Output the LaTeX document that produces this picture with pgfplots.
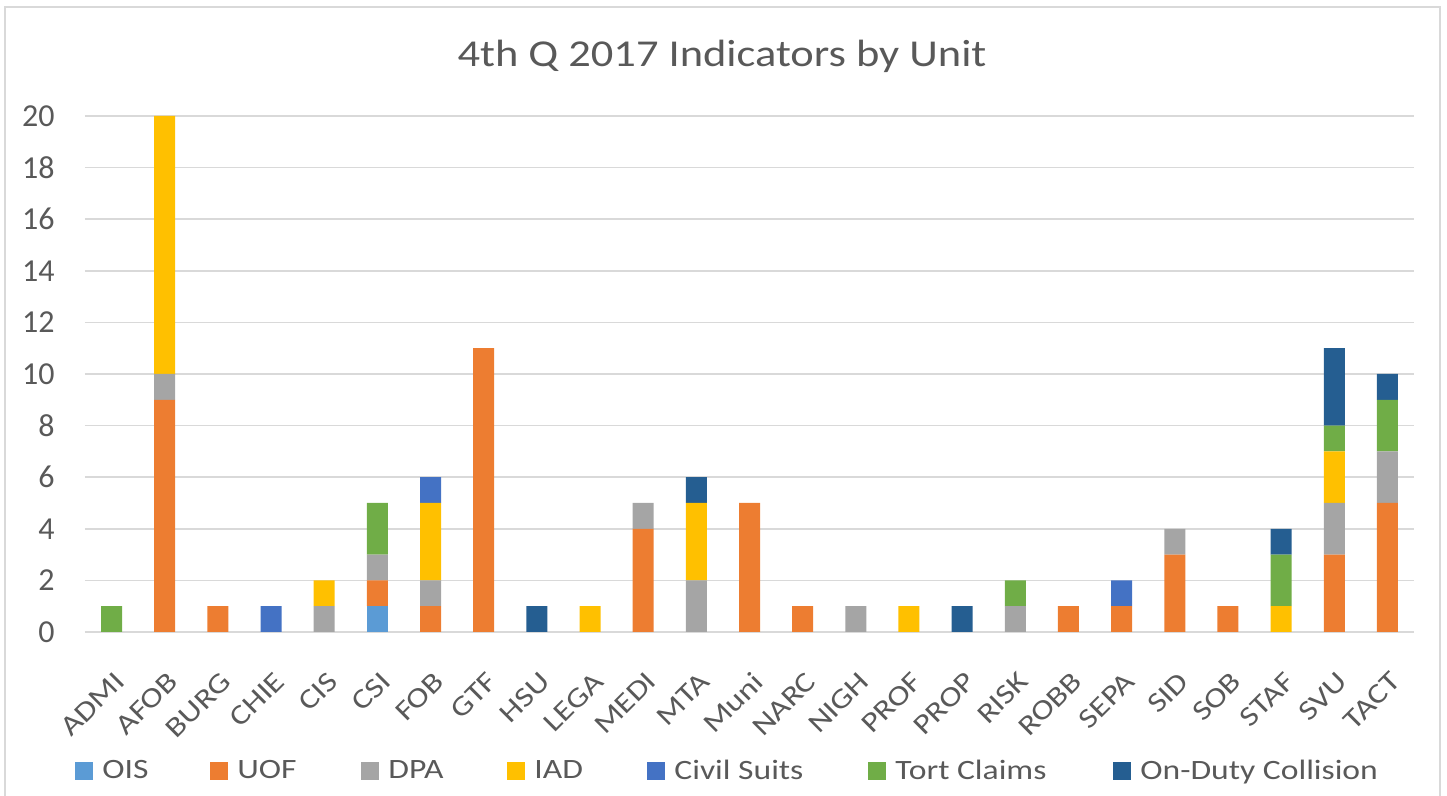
\documentclass[border=0pt]{standalone}
\usepackage{fontspec}
\setmainfont{Carlito}
\newfontfamily\wide{Carlito}[FakeStretch=1.2]
\newfontfamily\widet{Carlito}[FakeStretch=1.17]
\usepackage{pgfplots}
\pgfplotsset{compat=1.18}
\usepackage{pgfplotstable}
\definecolor{cOIS}{HTML}{5B9BD5}
\definecolor{cUOF}{HTML}{ED7D31}
\definecolor{cDPA}{HTML}{A5A5A5}
\definecolor{cIAD}{HTML}{FFC000}
\definecolor{cCiv}{HTML}{4472C4}
\definecolor{cTort}{HTML}{70AD47}
\definecolor{cColl}{HTML}{255E91}
\definecolor{txt}{HTML}{595959}
\definecolor{gridc}{HTML}{D9D9D9}
\pgfplotstableread{
x OIS UOF DPA IAD Civil Tort Coll
0 0 0 0 0 0 1 0
1 0 9 1 10 0 0 0
2 0 1 0 0 0 0 0
3 0 0 0 0 1 0 0
4 0 0 1 1 0 0 0
5 1 1 1 0 0 2 0
6 0 1 1 3 1 0 0
7 0 11 0 0 0 0 0
8 0 0 0 0 0 0 1
9 0 0 0 1 0 0 0
10 0 4 1 0 0 0 0
11 0 0 2 3 0 0 1
12 0 5 0 0 0 0 0
13 0 1 0 0 0 0 0
14 0 0 1 0 0 0 0
15 0 0 0 1 0 0 0
16 0 0 0 0 0 0 1
17 0 0 1 0 0 1 0
18 0 1 0 0 0 0 0
19 0 1 0 0 1 0 0
20 0 3 1 0 0 0 0
21 0 1 0 0 0 0 0
22 0 0 0 1 0 2 1
23 0 3 2 2 0 1 3
24 0 5 2 0 0 2 1
}\datatable
\begin{document}
\begin{tikzpicture}
\path[use as bounding box] (0,0) rectangle (723.5pt,398pt);
\draw[color=gridc, line width=1pt] (2.5pt,-2pt) -- (2.5pt,394.5pt) -- (720pt,394.5pt) -- (720pt,-2pt);
\node[font=\widet\fontsize{19}{22}\selectfont, text=txt] at (361pt,370pt) {4th Q 2017 Indicators by Unit};
\begin{axis}[
  at={(42.5pt,82pt)}, anchor=south west,
  scale only axis, width=664.5pt, height=258pt,
  ybar stacked, bar width=10.5pt,
  xmin=-0.5, xmax=24.5, ymin=0, ymax=20,
  ytick={0,2,...,20},
  xtick={0,...,24},
  xticklabels={ADMI,AFOB,BURG,CHIE,CIS,CSI,FOB,GTF,HSU,LEGA,MEDI,MTA,Muni,NARC,NIGH,PROF,PROP,RISK,ROBB,SEPA,SID,SOB,STAF,SVU,TACT},
  ymajorgrids, grid style={color=gridc, line width=0.75pt},
  axis line style={draw=none},
  major tick length=0pt,
  /pgf/number format/assume math mode=true,
  tick label style={text=txt},
  yticklabel style={font=\fontsize{16}{16}\selectfont, anchor=east, inner sep=0pt, xshift=-15pt},
  xticklabel style={font=\wide\fontsize{14}{14}\selectfont, xshift=1pt, yshift=-19pt, rotate=45, anchor=north east, inner sep=0pt},
  legend columns=7,
  legend style={at={(-0.0075,-0.269)}, anchor=west, draw=none, fill=none, inner sep=0pt,
    nodes={inner sep=0pt},
    font=\wide\fontsize{14}{14}\selectfont, text=txt,
    /tikz/every odd column/.style={column sep=4.5pt},
    /tikz/every even column/.style={column sep=0pt}},
  legend image code/.code={\fill[#1] (0pt,-4.5pt) rectangle (9pt,4.5pt);},
  every axis plot/.append style={draw=none},
]
\addplot[fill=cOIS] table[x=x,y=OIS]{\datatable};
\addplot[fill=cUOF] table[x=x,y=UOF]{\datatable};
\addplot[fill=cDPA] table[x=x,y=DPA]{\datatable};
\addplot[fill=cIAD] table[x=x,y=IAD]{\datatable};
\addplot[fill=cCiv] table[x=x,y=Civil]{\datatable};
\addplot[fill=cTort] table[x=x,y=Tort]{\datatable};
\addplot[fill=cColl] table[x=x,y=Coll]{\datatable};
\legend{\makebox[54pt][l]{OIS},\makebox[62pt][l]{UOF},\makebox[59.5pt][l]{DPA},\makebox[56.5pt][l]{IAD},\makebox[97pt][l]{Civil Suits},\makebox[109pt][l]{Tort Claims},On-Duty Collision}
\end{axis}
\end{tikzpicture}
\end{document}
